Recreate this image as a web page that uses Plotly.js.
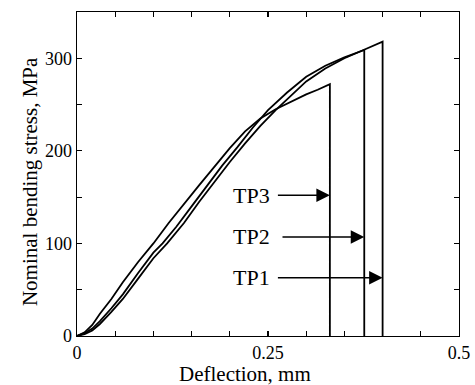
<!DOCTYPE html>
<html><head><meta charset="utf-8">
<script src="https://cdn.plot.ly/plotly-3.0.1.min.js"></script>
<style>html,body{margin:0;padding:0;background:#fff}#c{width:475px;height:385px}</style>
</head><body><div id="c"></div>
<script>
const tp1X = [0,0.01,0.02,0.03,0.045,0.06,0.08,0.1,0.118,0.14,0.16,0.18,0.2,0.22,0.24,0.26,0.28,0.3,0.325,0.35,0.375,0.4,0.4];
const tp1Y = [0,2,6,13,26,40,62,84,100,122,145,167,188,208,227,244,260,275,289,300,309,318,0];
const tp2X = [0,0.01,0.02,0.03,0.045,0.06,0.08,0.1,0.112,0.13,0.15,0.17,0.19,0.21,0.23,0.25,0.275,0.3,0.325,0.35,0.376,0.376];
const tp2Y = [0,3,8,16,30,45,68,90,100,118,140,162,184,204,225,244,263,280,292,301,309,0];
const tp3X = [0,0.01,0.02,0.03,0.045,0.06,0.08,0.1,0.12,0.14,0.16,0.18,0.2,0.22,0.24,0.26,0.28,0.3,0.315,0.331,0.331];
const tp3Y = [0,4,12,24,40,58,80,100,122,143,163,183,203,221,235,245,253,261,266,272,0];
const xTickVals = [0,0.05,0.1,0.15,0.2,0.25,0.3,0.35,0.4,0.45,0.5];
const xTickText = ['0','','','','','0.25','','','','','0.5'];
const yTickVals = [0,50,100,150,200,250,300,350];
const yTickText = ['0','','100','','200','','300',''];
const labels = ['TP1','TP2','TP3'];
const arrowY = [63,107,152];
const arrowTailX = [0.261,0.267,0.261];
const arrowHeadX = [0.4,0.376,0.331];

const line = {color:'#000', width:1.8};
const traces = [
  {x:tp1X, y:tp1Y, mode:'lines', line, name:'TP1'},
  {x:tp2X, y:tp2Y, mode:'lines', line, name:'TP2'},
  {x:tp3X, y:tp3Y, mode:'lines', line, name:'TP3'}
];
const fam = 'Liberation Serif, Times New Roman, serif';
const font = {family:fam, size:18, color:'#000'};
const annotations = [];
labels.forEach((t,i)=>{
  annotations.push({x:0.229, y:arrowY[i], xref:'x', yref:'y', text:t, showarrow:false, font:{family:fam, size:22, color:'#000'}, xanchor:'center', yanchor:'middle'});
  annotations.push({x:arrowHeadX[i], y:arrowY[i], ax:arrowTailX[i], ay:arrowY[i], xref:'x', yref:'y', axref:'x', ayref:'y', text:'', showarrow:true, arrowhead:2, arrowsize:1.8, arrowwidth:1.5, arrowcolor:'#000', standoff:0, startstandoff:0});
});
annotations.push({xref:'paper', yref:'paper', x:0.44, y:-0.118, text:'Deflection, mm', showarrow:false, xanchor:'center', yanchor:'middle', font:{family:fam, size:21, color:'#000'}});
annotations.push({xref:'paper', yref:'paper', x:-0.123, y:0.475, text:'Nominal bending stress, MPa', textangle:-90, showarrow:false, xanchor:'center', yanchor:'middle', font:{family:fam, size:21, color:'#000'}});
const axis = {showgrid:false, zeroline:false, showline:true, linecolor:'#000', linewidth:1.3, mirror:'ticks', ticks:'inside', ticklen:5, tickcolor:'#000', tickwidth:1.2, tickfont:font};
const layout = {
  width:475, height:385, margin:{l:77, r:16, t:12, b:49},
  showlegend:false, paper_bgcolor:'#fff', plot_bgcolor:'#fff', font,
  xaxis:{...axis, range:[0,0.5], tickvals:xTickVals, ticktext:xTickText},
  yaxis:{...axis, range:[0,350], tickvals:yTickVals, ticktext:yTickText},
  annotations
};
Plotly.newPlot('c', traces, layout, {staticPlot:true, displayModeBar:false});
</script></body></html>
